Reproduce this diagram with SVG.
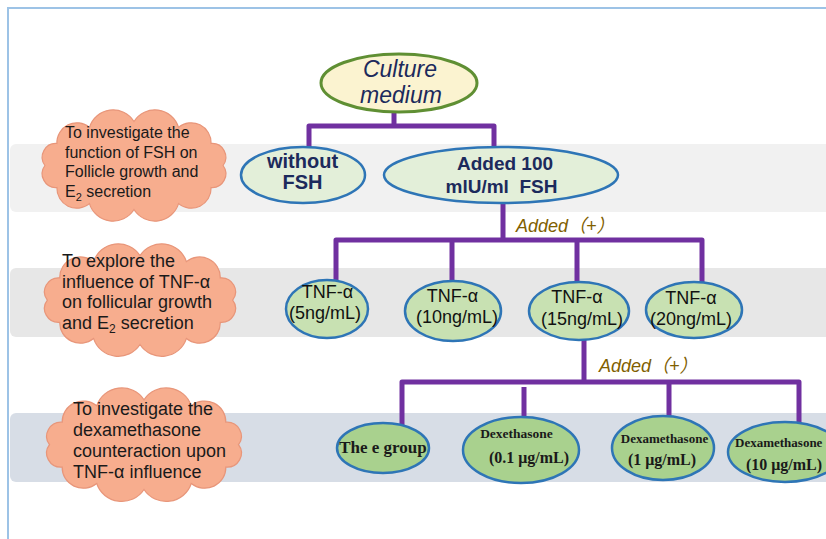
<svg xmlns="http://www.w3.org/2000/svg" xmlns:xlink="http://www.w3.org/1999/xlink" width="826" height="539" viewBox="0 0 826 539">
<style>
.band{stroke:none}
.cloud{fill:#f7ad8e;stroke:#e8967a;stroke-width:1.2}
.ct{font-family:"Liberation Sans",Arial,sans-serif;fill:#1a1a1a}
.conn{fill:none;stroke:#7030a0;stroke-width:5;stroke-linejoin:round;stroke-linecap:butt}
.top{fill:#fbf3d0;stroke:#5f8f33;stroke-width:3}
.pale{fill:#e3efd9;stroke:#2e75b6;stroke-width:2.5}
.tnf{fill:#c8e1b2;stroke:#2e75b6;stroke-width:2.5}
.dex{fill:#a9d18e;stroke:#2e75b6;stroke-width:2.5}
.nt{font-family:"Liberation Sans",Arial,sans-serif;font-weight:bold;fill:#1c2a5c;text-anchor:middle}
.it{font-family:"Liberation Sans",Arial,sans-serif;font-style:italic;fill:#1c2a5c;text-anchor:middle;font-size:23px}
.tt{font-family:"Liberation Sans",Arial,sans-serif;fill:#111;text-anchor:middle;font-size:18px}
.dt{font-family:"Liberation Serif","Times New Roman",serif;font-weight:bold;fill:#1a1a1a;text-anchor:middle}
.dts{font-family:"Liberation Serif","Times New Roman",serif;font-weight:bold;fill:#1a1a1a;text-anchor:start}
.add{font-family:"Liberation Sans",Arial,"Noto Sans CJK SC",sans-serif;font-style:italic;fill:#7f6000;font-size:18px}
</style>
<defs>
<path id="cloudShape" d="M190,57.5 A13.8,13.8 0 0 1 177.9,79.5 A20.1,20.1 0 0 1 145,95.6 A25,25 0 0 1 100,101.5 A25,25 0 0 1 55,95.6 A20.1,20.1 0 0 1 22.1,79.5 A13.8,13.8 0 0 1 10,57.5 A13.8,13.8 0 0 1 22.1,35.5 A20.1,20.1 0 0 1 55,19.4 A25,25 0 0 1 100,13.5 A25,25 0 0 1 145,19.4 A20.1,20.1 0 0 1 177.9,35.5 A13.8,13.8 0 0 1 190,57.5 Z"/>
</defs>
<rect x="0" y="0" width="826" height="539" fill="#ffffff"/>
<path d="M8,539 V8 H826" fill="none" stroke="#9dc3e6" stroke-width="2"/>
<g id="bands">
<rect class="band" x="10" y="144" width="830" height="68" rx="6" fill="#f1f1f1"/>
<rect class="band" x="10" y="268" width="830" height="69" rx="6" fill="#e7e7e7"/>
<rect class="band" x="10" y="413" width="830" height="69" rx="6" fill="#d7dde6"/>
</g>
<g id="cloud1">
<use xlink:href="#cloudShape" href="#cloudShape" class="cloud" vector-effect="non-scaling-stroke" transform="translate(35,108) scale(0.99,1)"/>
<text class="ct" font-size="16">
<tspan x="65" y="138">To investigate the</tspan>
<tspan x="65" y="157.5">function of FSH on</tspan>
<tspan x="65" y="177">Follicle growth and</tspan>
<tspan x="65" y="196.5">E<tspan font-size="11" dy="4">2</tspan><tspan dy="-4"> secretion</tspan></tspan>
</text>
</g>
<g id="cloud2">
<use xlink:href="#cloudShape" href="#cloudShape" class="cloud" vector-effect="non-scaling-stroke" transform="translate(37,242) scale(1.03,1.01)"/>
<text class="ct" font-size="18">
<tspan x="62" y="267">To explore the</tspan>
<tspan x="62" y="287.5">influence of TNF-α</tspan>
<tspan x="62" y="308">on follicular growth</tspan>
<tspan x="62" y="328.5">and E<tspan font-size="12" dy="4">2</tspan><tspan dy="-4"> secretion</tspan></tspan>
</text>
</g>
<g id="cloud3">
<use xlink:href="#cloudShape" href="#cloudShape" class="cloud" vector-effect="non-scaling-stroke" transform="translate(39,386) scale(1.05,1.02)"/>
<text class="ct" font-size="18">
<tspan x="73" y="415">To investigate the</tspan>
<tspan x="73" y="436">dexamethasone</tspan>
<tspan x="73" y="457">counteraction upon</tspan>
<tspan x="73" y="478">TNF-α influence</tspan>
</text>
</g>
<g id="connectors">
<path class="conn" d="M394,111 V126 M309,149 V126 H494 V148"/>
<path class="conn" d="M503,203 V240 M336,283 V240 H702 V284 M452,240 V282 M577,240 V283"/>
<path class="conn" d="M584,340 V382 M402,425 V382 H799 V424 M669,382 V418 M524,387 V419"/>
</g>
<g id="label-added-1"><text class="add" x="516" y="232">Added（+）</text></g>
<g id="label-added-2"><text class="add" x="599" y="372">Added（+）</text></g>
<g id="node-culture">
<ellipse class="top" cx="399" cy="83" rx="78" ry="29"/>
<text class="it" x="400" y="77">Culture</text>
<text class="it" x="401" y="103">medium</text>
</g>
<g id="node-without">
<ellipse class="pale" cx="303" cy="175" rx="62" ry="28"/>
<text class="nt" font-size="20" x="302.5" y="168">without</text>
<text class="nt" font-size="20" x="302.5" y="189">FSH</text>
</g>
<g id="node-added100">
<ellipse class="pale" cx="501" cy="175" rx="117" ry="28"/>
<text class="nt" font-size="19" x="505" y="170">Added 100</text>
<text class="nt" font-size="19" x="501.5" y="193" xml:space="preserve">mlU/ml  FSH</text>
</g>
<g id="node-tnf5">
<ellipse class="tnf" cx="327" cy="309" rx="41" ry="29"/>
<text class="tt" x="327.5" y="298">TNF-α</text>
<text class="tt" x="325" y="319">(5ng/mL)</text>
</g>
<g id="node-tnf10">
<ellipse class="tnf" cx="453" cy="311" rx="48" ry="30"/>
<text class="tt" x="452.5" y="302">TNF-α</text>
<text class="tt" x="457" y="323">(10ng/mL)</text>
</g>
<g id="node-tnf15">
<ellipse class="tnf" cx="579" cy="311" rx="50" ry="29"/>
<text class="tt" x="577" y="303">TNF-α</text>
<text class="tt" x="582" y="325">(15ng/mL)</text>
</g>
<g id="node-tnf20">
<ellipse class="tnf" cx="694" cy="310" rx="48" ry="28"/>
<text class="tt" x="691" y="304">TNF-α</text>
<text class="tt" x="691" y="325">(20ng/mL)</text>
</g>
<g id="node-egroup">
<ellipse class="dex" cx="383" cy="448" rx="46" ry="25"/>
<text class="dt" font-size="17" x="383" y="453">The e group</text>
</g>
<g id="node-dex01">
<ellipse class="dex" cx="521" cy="450" rx="58" ry="33"/>
<text class="dt" font-size="13.5" x="516.5" y="438">Dexethasone</text>
<text class="dt" font-size="16" x="529" y="463">(0.1 μg/mL)</text>
</g>
<g id="node-dex1">
<ellipse class="dex" cx="663" cy="448" rx="51" ry="32"/>
<text class="dt" font-size="13" x="664.5" y="443">Dexamethasone</text>
<text class="dt" font-size="16" x="662" y="465">(1 μg/mL)</text>
</g>
<g id="node-dex10">
<ellipse class="dex" cx="785" cy="452" rx="57" ry="30"/>
<text class="dts" font-size="13" x="735" y="447">Dexamethasone</text>
<text class="dt" font-size="16" x="784" y="470">(10 μg/mL)</text>
</g>
</svg>
